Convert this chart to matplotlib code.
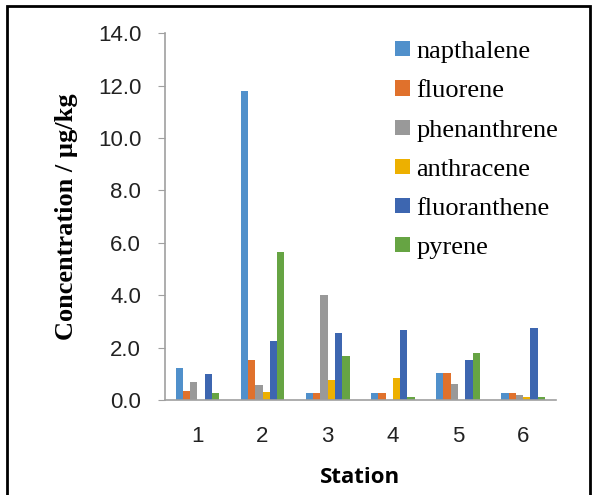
import matplotlib
matplotlib.use("Agg")
import matplotlib.pyplot as plt
from matplotlib.patches import Rectangle
import numpy as np

stations = ["1", "2", "3", "4", "5", "6"]
series_names = ["napthalene", "fluorene", "phenanthrene", "anthracene", "fluoranthene", "pyrene"]
napthalene = [1.23, 11.80, 0.25, 0.25, 1.04, 0.25]
fluorene = [0.36, 1.54, 0.25, 0.25, 1.04, 0.25]
phenanthrene = [0.70, 0.56, 4.02, 0.0, 0.60, 0.20]
anthracene = [0.0, 0.31, 0.75, 0.85, 0.0, 0.11]
fluoranthene = [0.99, 2.26, 2.57, 2.66, 1.54, 2.76]
pyrene = [0.25, 5.64, 1.68, 0.11, 1.78, 0.11]
colors = ["#5090CB", "#E0712C", "#999999", "#EDB000", "#3D66B0", "#66A443"]
yticks = [0, 2, 4, 6, 8, 10, 12, 14]

data = [napthalene, fluorene, phenanthrene, anthracene, fluoranthene, pyrene]

fig = plt.figure(figsize=(5.95, 4.95), dpi=100)
ax = fig.add_axes([0.277, 0.192, 0.657, 0.741])

x = np.arange(len(stations))
w = 0.112
for i, (name, vals, c) in enumerate(zip(series_names, data, colors)):
    ax.bar(x + (i - 2.5) * w, vals, width=w, color=c, label=name, zorder=2)

ax.set_xlim(-0.5, len(stations) - 0.5)
ax.set_ylim(0, 14)
ax.set_yticks(yticks)
ax.set_yticklabels([f"{v:.1f}" for v in yticks], fontsize=16, family="Liberation Sans",
                   color="#222222")
ax.set_xticks(x)
ax.set_xticklabels(stations, fontsize=16, family="Liberation Sans", color="#222222")
ax.tick_params(axis="x", length=0, pad=19)
ax.tick_params(axis="y", length=5, color="#A0A0A0", direction="out", pad=12)
for s in ["top", "right"]:
    ax.spines[s].set_visible(False)
for s in ["left", "bottom"]:
    ax.spines[s].set_color("#A0A0A0")
    ax.spines[s].set_linewidth(1.2)

ax.set_ylabel("Concentration / µg/kg", fontsize=19, fontweight="bold",
              family="Liberation Serif", labelpad=14)
ax.set_xlabel("Station", fontsize=16, fontweight="bold", family="Open Sans", labelpad=14)

leg = ax.legend(loc="upper left", bbox_to_anchor=(0.59, 0.978), frameon=False,
                prop={"family": "Liberation Serif", "size": 19},
                handlelength=0.55, handleheight=0.5, handletextpad=0.25,
                labelspacing=0.65, borderaxespad=0.0, borderpad=0.0)

fig.patches.append(Rectangle((7 / 595, -0.02), (590 - 7) / 595, 1 - 6 / 495 + 0.02,
                             transform=fig.transFigure, fill=False,
                             edgecolor="black", linewidth=2))

fig.savefig("out.png", dpi=100)
